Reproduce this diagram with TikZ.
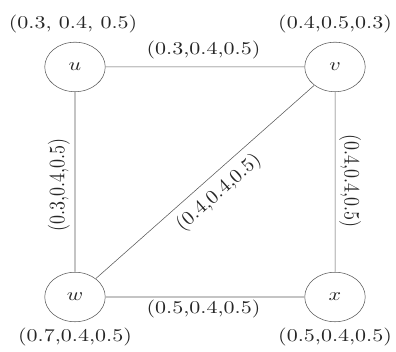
\documentclass[tikz,border=0pt]{standalone}
\begin{document}
\begin{tikzpicture}[x=1pt,y=1pt,xscale=2.2,yscale=1.8,transform shape,
  vtx/.style={circle,draw=black!65,line width=0.55pt,minimum size=27.5pt,inner sep=0pt,text=black!85},
  lbl/.style={inner sep=0pt,text=black!85},
  edge/.style={draw=black!65,line width=0.55pt}]
\useasboundingbox (0,0) rectangle (180,195);
\node[vtx] (u) at (34.09,157.8) {$u$};
\node[vtx] (v) at (152.27,157.8) {$v$};
\node[vtx] (w) at (34.09,30) {$w$};
\node[vtx] (x) at (152.27,30) {$x$};
\draw[edge] (u) -- (v);
\draw[edge] (u) -- (w);
\draw[edge] (v) -- (x);
\draw[edge] (w) -- (x);
\draw[edge] (w) -- (v);
\node[lbl] (lu) at (33.2,181.7) {(0.3, 0.4, 0.5)};
\node[lbl] (lv) at (152.3,181.7) {(0.4,0.5,0.3)};
\node[lbl] (lw) at (34.1,7.8) {(0.7,0.4,0.5)};
\node[lbl] (lx) at (152.3,7.8) {(0.5,0.4,0.5)};
\node[lbl] (luv) at (92.5,167.2) {(0.3,0.4,0.5)};
\node[lbl] (lwx) at (92.5,23.3) {(0.5,0.4,0.5)};
\node[lbl,rotate=90] (luw) at (26.8,92.2) {(0.3,0.4,0.5)};
\node[lbl,rotate=-90] (lvx) at (159.1,94.4) {(0.4,0.4,0.5)};
\begin{scope}[transform shape=false]
\node[lbl,rotate=41.5] (lwv) at (99.5,87.8) {\scalebox{2.05}[1.95]{(0.4,0.4,0.5)}};
\end{scope}
\end{tikzpicture}
\end{document}
